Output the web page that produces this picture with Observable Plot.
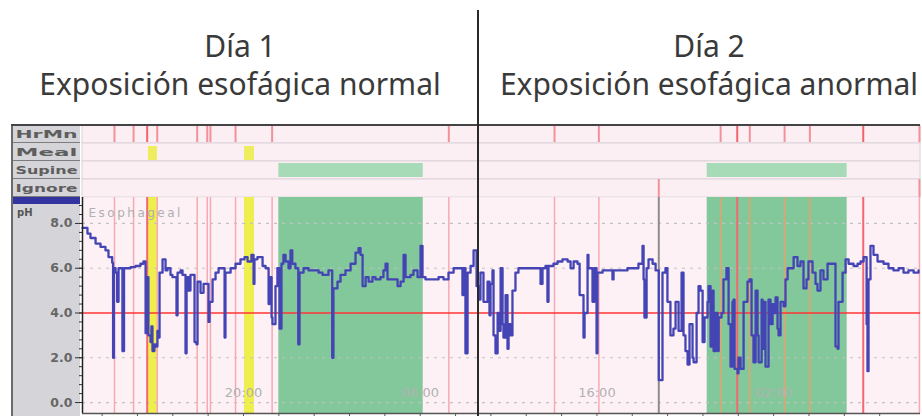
<!DOCTYPE html>
<html><head><meta charset="utf-8">
<script src="https://cdn.jsdelivr.net/npm/d3@7"></script>
<script src="https://cdn.jsdelivr.net/npm/@observablehq/plot@0.6"></script>
<style>
body{margin:0;background:#fff;}
#wrap{position:relative;width:922px;height:416px;overflow:hidden;background:#fff;font-family:"Noto Sans",sans-serif;}
.title{position:absolute;top:27px;width:480px;text-align:center;font-size:30px;line-height:38px;color:#3a3a3a;white-space:nowrap;}
#panel{position:absolute;left:11px;top:125px;width:69px;height:291px;background:#d5d5d9;border-left:2px solid #6a6a6a;box-sizing:border-box;}
#panel .row{height:17px;border-bottom:1px solid #7c7c7c;}
#panel .blue{height:7px;background:#3434a0;}
#ph{position:absolute;left:17px;top:207px;font:bold 10px "DejaVu Sans",sans-serif;color:#555;}
#topline{position:absolute;left:11px;top:124px;width:909px;height:2px;background:#444;}
#chartA{position:absolute;left:0;top:125px;}
#chartB{position:absolute;left:0;top:197px;}
#divider{position:absolute;top:10px;width:2px;height:406px;background:#2a2a2a;}
</style></head>
<body>
<div id="wrap">
  <div class="title" style="left:0">Día 1<br>Exposición esofágica normal</div>
  <div class="title" style="left:469px">Día 2<br>Exposición esofágica anormal</div>
  <div id="panel"></div>
  <div id="ph">pH</div>
  <div id="chartA"></div>
  <div id="chartB"></div>
  <div id="topline"></div>
  <div id="divider"></div>
</div>
<script>
// ---- data (time in hours since midnight of day 1) ----
const xDomain = [10.89, 58.31];
const yDomain = [-0.49, 9.16];
const trackRows = ["HrMn", "Meal", "Supine", "Ignore"];
const xTickHours = [20, 30, 40, 50];
const xTickLabels = ["20:00", "06:00", "16:00", "02:00"];
const yTickValues = [0, 2, 4, 6, 8];
const gridPH = [0, 2, 6, 8];
const thresholdPH = [4];
const dayBoundary = 33.30;
const meals = [[14.62, 15.13], [20.06, 20.62]];
const supinePeriods = [[22.0, 30.17], [46.24, 54.16]];
const majorEvents = [14.55, 47.94, 55.07];
const minorEvents = [12.70, 13.78, 15.12, 17.38, 17.95, 18.13, 19.55, 21.62, 31.62, 37.60, 40.11, 47.00, 48.65, 50.62, 52.05, 58.25];
const ignoreMarks = [43.50, 58.25];
const probeMarks = [43.50];

const phHours = [
10.89,11.17,11.34,11.63,11.91,12.19,12.36,12.57,12.62,12.67,12.76,12.85,12.93,13.10,13.15,13.24,13.61,13.89,14.17,14.34,
14.46,14.57,14.62,14.74,14.79,14.85,14.96,15.02,15.13,15.19,15.25,15.42,15.59,15.70,15.87,15.98,16.21,16.27,16.44,16.55,
16.72,16.78,16.89,17.00,17.23,17.34,17.40,17.57,17.74,18.02,18.08,18.25,18.42,18.59,18.90,18.93,18.98,19.27,19.55,19.83,
20.06,20.23,20.45,20.57,20.62,20.79,21.08,21.25,21.42,21.47,21.59,21.64,21.81,21.92,22.04,22.15,22.26,22.38,22.55,22.66,
22.76,22.94,23.10,23.17,23.40,23.68,23.96,24.25,24.47,24.75,24.81,25.02,25.09,25.32,25.49,25.77,26.06,26.34,26.51,26.62,
26.74,26.91,27.08,27.30,27.47,27.75,27.92,28.04,28.15,28.43,28.72,28.89,29.06,29.17,29.45,29.62,29.85,30.02,30.13,30.30,
30.70,31.04,31.32,31.60,31.89,32.17,32.39,32.45,32.56,32.68,32.85,33.02,33.19,33.30,33.41,33.58,33.81,33.92,33.98,34.09,
34.15,34.26,34.38,34.43,34.55,34.66,34.71,34.83,34.94,35.00,35.11,35.22,35.39,35.56,35.85,36.24,36.64,36.81,36.92,37.09,
37.20,37.26,37.54,37.77,38.05,38.34,38.51,38.68,38.90,39.02,39.24,39.30,39.47,39.52,39.75,39.86,39.98,40.03,40.32,40.60,
40.88,40.94,41.34,41.73,42.07,42.35,42.58,42.64,42.69,42.81,42.92,43.15,43.32,43.50,43.71,43.88,43.99,44.16,44.33,44.45,
44.62,44.79,44.90,45.01,45.13,45.24,45.41,45.47,45.64,45.75,45.86,45.98,46.09,46.26,46.32,46.43,46.55,46.60,46.72,46.83,
46.89,47.05,47.16,47.33,47.45,47.56,47.67,47.73,47.79,47.96,48.01,48.13,48.30,48.52,48.63,48.75,48.86,48.98,49.09,49.15,
49.32,49.37,49.43,49.54,49.71,49.82,49.94,50.00,50.11,50.22,50.28,50.39,50.56,50.67,50.79,50.96,51.13,51.35,51.52,51.69,
51.86,51.97,52.20,52.37,52.48,52.65,52.82,53.05,53.22,53.39,53.50,53.62,53.67,53.90,54.07,54.24,54.52,54.75,54.92,55.09,
55.26,55.31,55.37,55.48,55.65,55.88,56.22,56.50,56.78,57.07,57.35,57.63,57.92,58.20
];
const phValues = [
7.8,7.55,7.35,7.1,6.95,6.8,6.5,6.25,2.0,6.0,5.8,4.5,6.0,6.0,2.3,6.0,6.05,6.1,6.2,6.3,
3.1,5.6,3.0,2.7,3.4,2.3,2.6,2.5,3.2,2.9,5.8,6.4,5.9,6.0,5.7,5.6,3.9,5.8,5.9,5.7,
2.2,5.6,5.0,5.7,2.7,2.6,5.4,4.9,5.3,3.6,4.5,5.5,5.8,6.0,6.0,2.9,5.8,6.0,6.2,6.4,
6.5,6.3,6.6,5.3,6.4,6.5,6.1,6.0,4.4,5.6,3.8,3.5,5.2,6.0,3.3,6.2,6.6,6.3,6.0,6.8,
6.2,6.0,2.6,5.8,6.0,5.9,5.9,5.8,5.7,5.7,5.9,2.0,5.1,5.4,5.7,5.9,6.2,6.7,6.9,6.6,
5.2,5.6,5.4,5.6,5.5,5.6,5.9,6.2,5.5,5.5,5.2,5.4,6.6,5.6,5.7,5.9,5.6,7.0,5.6,5.5,
5.5,5.6,5.5,5.8,6.0,6.0,4.8,6.0,2.2,5.8,6.1,6.8,5.2,4.6,5.8,4.5,5.4,3.9,5.3,5.9,
3.0,2.2,4.0,3.2,6.0,3.5,2.9,4.8,2.4,3.5,3.0,5.0,5.8,6.0,6.0,6.0,6.0,5.3,6.0,6.1,
4.5,6.1,6.2,6.3,6.4,6.3,6.0,6.3,6.2,4.8,2.9,4.0,6.6,6.0,4.5,6.0,2.2,5.8,5.9,5.9,
5.5,5.9,5.9,6.0,6.0,6.2,7.0,5.5,3.8,6.0,6.4,6.2,5.9,1.0,5.8,6.0,4.5,3.0,3.3,4.5,
3.2,5.8,3.0,2.3,1.7,3.5,2.0,1.8,4.0,5.2,5.0,2.7,3.8,4.5,5.2,2.5,5.0,2.3,4.0,2.3,
3.8,4.0,5.5,6.0,3.5,1.6,4.5,4.6,1.5,1.3,2.0,1.5,4.5,5.4,5.5,3.0,1.8,5.0,3.0,1.8,
4.6,2.4,4.5,1.6,4.6,3.5,4.4,4.0,4.7,3.3,3.0,4.5,4.3,5.5,6.0,6.0,6.5,6.1,6.3,5.1,
5.5,6.3,5.8,5.3,5.0,5.9,5.5,6.2,6.2,6.2,2.5,2.4,4.5,5.8,6.4,6.2,6.1,6.2,6.3,6.5,
3.5,1.4,5.5,7.0,6.6,6.3,6.2,6.0,5.9,6.0,5.8,5.9,5.8,5.9
];
const phData = phHours.map((t, i) => ({t, ph: phValues[i]}));
const inSupine = t => supinePeriods.some(([a, b]) => t >= a && t <= b);

// ---- label panel rows (HTML, behind the SVG) ----
const panel = document.getElementById("panel");
trackRows.forEach(() => { const d = document.createElement("div"); d.className = "row"; panel.appendChild(d); });
const blue = document.createElement("div"); blue.className = "blue"; panel.appendChild(blue);

// ---- tracks plot ----
const chartA = Plot.plot({
  width: 922, height: 72, marginLeft: 82, marginRight: 2, marginTop: 0, marginBottom: 0,
  x: {domain: xDomain, axis: null, label: null},
  y: {domain: trackRows, padding: 0, label: null},
  style: {background: "transparent", overflow: "visible"},
  marks: [
    Plot.barX(trackRows, {x1: () => xDomain[0], x2: () => xDomain[1], y: d => d, fill: "#fbeff4", stroke: "#dcd2d7", strokeWidth: 1}),
    Plot.tickX(minorEvents, {x: d => d, y: () => "HrMn", stroke: "#f3919a", strokeWidth: 2, insetTop: 1, insetBottom: 1}),
    Plot.tickX(majorEvents, {x: d => d, y: () => "HrMn", stroke: "#f0646c", strokeWidth: 2, insetTop: 1, insetBottom: 1}),
    Plot.barX(meals, {x1: d => d[0], x2: d => d[1], y: () => "Meal", fill: "#eeed5e", insetTop: 3, insetBottom: 1}),
    Plot.barX(supinePeriods, {x1: d => d[0], x2: d => d[1], y: () => "Supine", fill: "#a7dab7", insetTop: 2, insetBottom: 2}),
    Plot.tickX(ignoreMarks, {x: d => d, y: () => "Ignore", stroke: "#f3919a", strokeWidth: 2}),
    Plot.axisY({tickSize: 0, tickPadding: 0, textAnchor: "start", dx: -67, fontSize: 11, fontWeight: "bold", fill: "#5e5e5e", fontFamily: "DejaVu Sans", label: null})
  ]
});
document.getElementById("chartA").appendChild(chartA);
d3.select(chartA).selectAll("g[aria-label='y-axis tick label'] text")
  .attr("textLength", 62).attr("lengthAdjust", "spacingAndGlyphs");

// ---- pH plot ----
const chartB = Plot.plot({
  width: 922, height: 219, marginLeft: 82, marginRight: 2, marginTop: 0, marginBottom: 3,
  x: {domain: xDomain, label: null},
  y: {domain: yDomain, label: null},
  style: {background: "transparent", overflow: "visible"},
  marks: [
    Plot.frame({fill: "#fdf1f6"}),
    Plot.barX(supinePeriods, {x1: d => d[0], x2: d => d[1], fill: "#82c89b"}),
    Plot.barX(meals, {x1: d => d[0], x2: d => d[1], fill: "#eeee4c"}),
    Plot.ruleY(gridPH, {stroke: "#c2c2c2", strokeDasharray: "3,5", strokeWidth: 1.2}),
    Plot.ruleX(minorEvents.filter(t => !inSupine(t)), {stroke: "#f7a9b1", strokeWidth: 1.5}),
    Plot.ruleX(minorEvents.filter(inSupine), {stroke: "#e7a26c", strokeWidth: 1.5}),
    Plot.ruleX(majorEvents, {stroke: "#f3676f", strokeWidth: 2}),
    Plot.ruleX(probeMarks, {stroke: "#8c8c8c", strokeWidth: 2}),
    Plot.ruleY(thresholdPH, {stroke: "#ff3434", strokeWidth: 1.6}),
    Plot.line(phData, {x: "t", y: "ph", curve: "step-after", stroke: "#4444b4", strokeWidth: 2.3}),
    Plot.text(["Esophageal"], {frameAnchor: "top-left", dx: 6, dy: 11, fontSize: 12, fill: "#b0b0b0", fontFamily: "DejaVu Sans"}),
    Plot.axisX({ticks: xTickHours, tickFormat: d => xTickLabels[xTickHours.indexOf(d)], tickSize: 0, tickPadding: 0, dy: -26, fontSize: 13, fill: "#b2b2b2", fontFamily: "DejaVu Sans", label: null}),
    Plot.axisX({ticks: d3.range(12, 58, 2), tickSize: 3, tickFormat: () => "", stroke: "#555", label: null}),
    Plot.axisY({ticks: d3.range(0, 9.1, 0.4), tickSize: 3, tickFormat: () => "", stroke: "#333", label: null}),
    Plot.axisY({ticks: yTickValues, tickFormat: d3.format(".1f"), tickSize: 7, tickPadding: 3, fontSize: 12.5, fontWeight: "bold", fill: "#666", stroke: "#333", fontFamily: "DejaVu Sans", label: null}),
    Plot.ruleX([xDomain[0]], {stroke: "#222", strokeWidth: 1.5}),
    Plot.ruleY([yDomain[0]], {stroke: "#555", strokeWidth: 1.5})
  ]
});
document.getElementById("chartB").appendChild(chartB);
d3.select(chartB).selectAll("text").filter(function(){ return this.textContent === "Esophageal"; })
  .style("letter-spacing", "2.5px");

// day divider, positioned with the plot's own x scale
const xb = chartB.scale("x").apply(dayBoundary);
document.getElementById("divider").style.left = (xb - 1) + "px";
</script>
</body></html>
